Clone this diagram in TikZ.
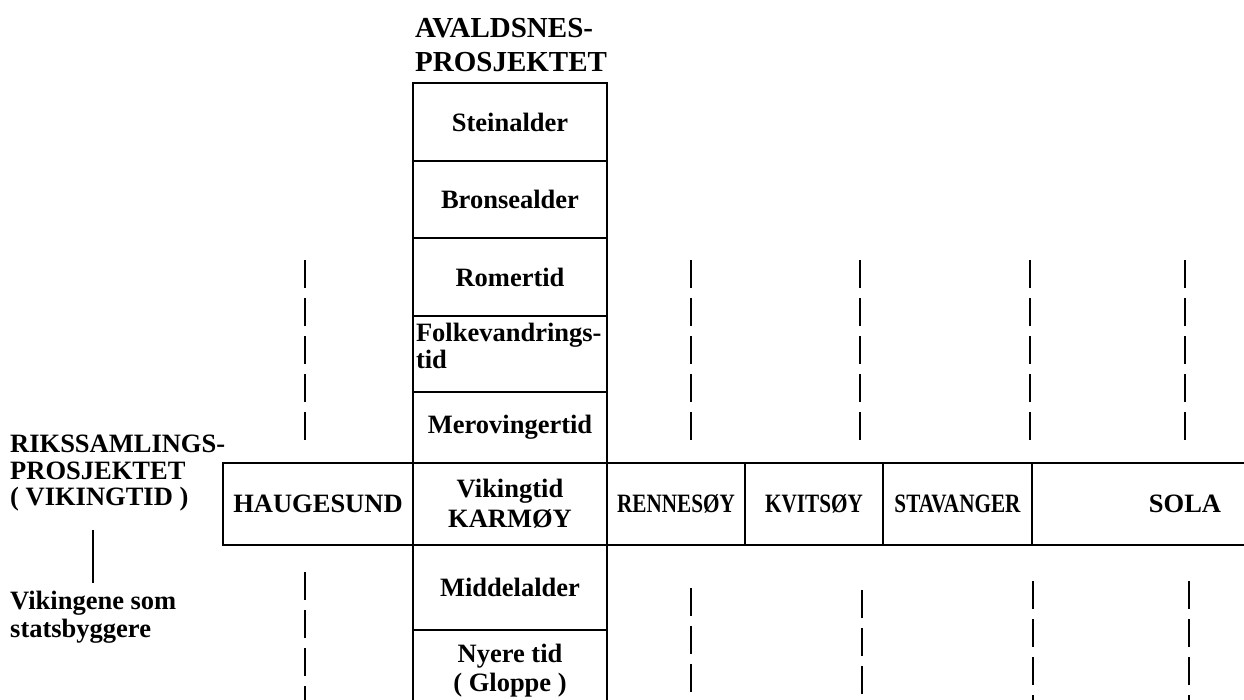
\documentclass[tikz,border=0pt]{standalone}
\usepackage{fontspec}
\setmainfont{Liberation Serif}
\newfontfamily\narrowserif[FakeStretch=0.8]{Liberation Serif}
\usetikzlibrary{positioning}

\newcommand\bodytext{\fontsize{26.5}{28}\selectfont\bfseries}
\newcommand\titletext{\fontsize{29}{34}\selectfont\bfseries}

\tikzset{
  epochbox/.style={draw, line width=1.8pt, minimum width=194pt, inner sep=0pt, align=center, font=\bodytext},
  townbox/.style={draw, line width=1.8pt, minimum height=82pt, inner sep=0pt, align=center, font=\bodytext},
  heading/.style={inner sep=0pt, align=left, anchor=north west, font=\bodytext},
  placeline/.style={line width=2.4pt, dash pattern=on 28pt off 10pt},
  linkline/.style={line width=2.4pt}
}

\begin{document}
\begin{tikzpicture}[x=1pt,y=-1pt]
    \useasboundingbox (0,0) rectangle (1244,699);
    \clip (0,0) rectangle (1244,699);

    % column of periods
    \node [heading, font=\titletext] (avaldsnes) at (415,18) {AVALDSNES-\\PROSJEKTET};
    \node [epochbox, minimum height=78pt] (steinalder) at (510,122) {Steinalder};
    \node [epochbox, minimum height=77pt] (bronsealder) at (510,199.5) {Bronsealder};
    \node [epochbox, minimum height=78pt] (romertid) at (510,277) {Romertid};
    \node [epochbox, minimum height=76pt, text width=188pt, inner xsep=3pt, align=left,
           font=\fontsize{26.5}{27}\selectfont\bfseries] (folkevandring) at (510,354) {Folkevandrings-\\tid\\[-10pt]\mbox{}};
    \node [epochbox, minimum height=71pt] (merovinger) at (510,427.5) {Merovingertid};
    \node [epochbox, minimum height=82pt, font=\fontsize{26.5}{30}\selectfont\bfseries] (vikingtid) at (510,504) {Vikingtid\\KARMØY};
    \node [epochbox, minimum height=85pt] (middelalder) at (510,587.5) {Middelalder};
    \node [epochbox, minimum height=82pt, font=\fontsize{26.5}{29}\selectfont\bfseries] (nyeretid) at (510,671) {Nyere tid\\( Gloppe )};

    % row of places
    \node [townbox, minimum width=190pt] (haugesund) at (318,504) {HAUGESUND};
    \node [townbox, minimum width=138pt, font=\narrowserif\bodytext] (rennesoy) at (676,504) {RENNESØY};
    \node [townbox, minimum width=138pt, font=\narrowserif\bodytext] (kvitsoy) at (814,504) {KVITSØY};
    \node [townbox, minimum width=149pt, font=\narrowserif\bodytext] (stavanger) at (957.5,504) {STAVANGER};
    \node [townbox, minimum width=306pt] (sola) at (1185,504) {SOLA};

    % project on the left
    \node [heading, font=\fontsize{26.5}{26.5}\selectfont\bfseries] (riks) at (10,435) {RIKSSAMLINGS-\\PROSJEKTET\\( VIKINGTID )};
    \node [heading] (vikingene) at (10,591) {Vikingene som\\statsbyggere};
    \draw [linkline, shorten <=18pt, shorten >=8pt] (riks.south -| vikingene.north) -- (vikingene.north);

    % dashed lines above and below the places
    \foreach \town/\xup/\xdown/\ydown in {haug/305/305/572, renn/691/691/588, kvit/860/862/590, stav/1030/1033/581, sola/1185/1189/581} {
        \coordinate (\town up) at (\xup,260);
        \coordinate (\town upend) at (\xup,446);
        \coordinate (\town down) at (\xdown,\ydown);
        \coordinate (\town downend) at (\xdown,720);
        \draw [placeline] (\town up) -- (\town upend);
        \draw [placeline] (\town down) -- (\town downend);
    }
\end{tikzpicture}
\end{document}
